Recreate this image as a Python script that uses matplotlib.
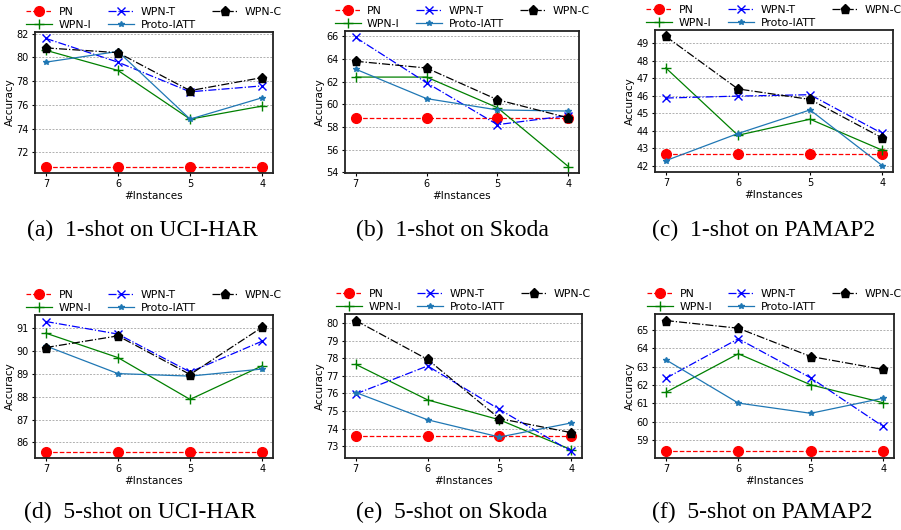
import matplotlib
matplotlib.use("Agg")
import matplotlib.pyplot as plt
from matplotlib.ticker import MultipleLocator

W, H = 901, 530

instances = [7, 6, 5, 4]
series_names = ["PN", "WPN-I", "WPN-T", "Proto-IATT", "WPN-C"]

# (a) 1-shot on UCI-HAR
a_pn = [70.8, 70.8, 70.8, 70.8]
a_wpn_i = [80.6, 78.9, 74.8, 75.9]
a_wpn_t = [81.6, 79.6, 77.1, 77.6]
a_proto = [79.6, 80.5, 74.8, 76.6]
a_wpn_c = [80.8, 80.4, 77.2, 78.3]

# (b) 1-shot on Skoda
b_pn = [58.8, 58.8, 58.8, 58.8]
b_wpn_i = [62.4, 62.4, 59.7, 54.5]
b_wpn_t = [65.9, 61.9, 58.2, 59.0]
b_proto = [63.1, 60.5, 59.5, 59.4]
b_wpn_c = [63.8, 63.2, 60.4, 58.8]

# (c) 1-shot on PAMAP2
c_pn = [42.66, 42.66, 42.66, 42.66]
c_wpn_i = [47.6, 43.75, 44.67, 42.9]
c_wpn_t = [45.88, 45.99, 46.07, 43.86]
c_proto = [42.3, 43.85, 45.2, 42.02]
c_wpn_c = [49.4, 46.4, 45.8, 43.6]

# (d) 5-shot on UCI-HAR
d_pn = [85.6, 85.6, 85.6, 85.6]
d_wpn_i = [90.78, 89.71, 87.88, 89.35]
d_wpn_t = [91.29, 90.74, 89.08, 90.43]
d_proto = [90.22, 89.01, 88.9, 89.21]
d_wpn_c = [90.15, 90.66, 88.97, 91.04]

# (e) 5-shot on Skoda
e_pn = [73.6, 73.6, 73.6, 73.6]
e_wpn_i = [77.65, 75.63, 74.5, 72.8]
e_wpn_t = [75.97, 77.56, 75.09, 72.7]
e_proto = [76.05, 74.5, 73.52, 74.32]
e_wpn_c = [80.14, 77.93, 74.57, 73.77]

# (f) 5-shot on PAMAP2
f_pn = [58.36, 58.36, 58.36, 58.36]
f_wpn_i = [61.6, 63.71, 62.01, 61.03]
f_wpn_t = [62.37, 64.53, 62.39, 59.73]
f_proto = [63.38, 61.01, 60.45, 61.28]
f_wpn_c = [65.53, 65.11, 63.56, 62.85]

ytick_steps = [2, 2, 1, 1, 1, 1]

panels = [
    ("(a)  1-shot on UCI-HAR", [a_pn, a_wpn_i, a_wpn_t, a_proto, a_wpn_c]),
    ("(b)  1-shot on Skoda", [b_pn, b_wpn_i, b_wpn_t, b_proto, b_wpn_c]),
    ("(c)  1-shot on PAMAP2", [c_pn, c_wpn_i, c_wpn_t, c_proto, c_wpn_c]),
    ("(d)  5-shot on UCI-HAR", [d_pn, d_wpn_i, d_wpn_t, d_proto, d_wpn_c]),
    ("(e)  5-shot on Skoda", [e_pn, e_wpn_i, e_wpn_t, e_proto, e_wpn_c]),
    ("(f)  5-shot on PAMAP2", [f_pn, f_wpn_i, f_wpn_t, f_proto, f_wpn_c]),
]

styles = [
    dict(color="red", linestyle="--", marker="o", markersize=7, linewidth=0.9),
    dict(color="green", linestyle="-", marker="+", markersize=6.5, linewidth=0.9),
    dict(color="blue", linestyle="-.", marker="x", markersize=6, linewidth=0.9),
    dict(color="#1f77b4", linestyle="-", marker="*", markersize=4, linewidth=0.9),
    dict(color="black", linestyle="-.", marker="p", markersize=6.5, linewidth=0.9),
]

# pixel boxes: left, right, top, bottom
boxes = [
    (35, 273, 32, 173), (345, 579, 31, 173), (655, 893, 30, 172),
    (35, 273, 315, 458), (345, 582, 314, 458), (655, 894, 314, 458),
]
captions_xy = [(142, 230), (452, 230), (764, 230), (140, 512), (452, 512), (762, 512)]

fig = plt.figure(figsize=(W / 100, H / 100), dpi=100)

for (cap, data), (l, r, t, b), (cx, cy), step in zip(panels, boxes, captions_xy, ytick_steps):
    ax = fig.add_axes([l / W, 1 - b / H, (r - l) / W, (b - t) / H])
    for name, vals, st in zip(series_names, data, styles):
        ax.plot(instances, vals, label=name, **st)
    ax.invert_xaxis()
    ax.set_xticks(instances)
    ax.yaxis.set_major_locator(MultipleLocator(step))
    ax.yaxis.grid(True, linestyle=(0, (2, 1.5)), color="#b0b0b0", linewidth=0.7)
    ax.set_axisbelow(True)
    ax.tick_params(labelsize=7, length=2.5, width=0.8, pad=2)
    for sp in ax.spines.values():
        sp.set_linewidth(1.3)
        sp.set_color("#222222")
    ax.set_xlabel("#Instances", fontsize=7.5, labelpad=1)
    ax.set_ylabel("Accuracy", fontsize=7.5, labelpad=1)
    ax.legend(loc="lower center", bbox_to_anchor=(0.5, 1.0), ncol=3, frameon=False,
              fontsize=7.8, borderaxespad=0.0, borderpad=0.2, handlelength=2.4,
              columnspacing=1.5, labelspacing=0.3, handletextpad=0.6)
    fig.text(cx / W, 1 - cy / H, cap, ha="center", va="center",
             family="Liberation Serif", fontsize=17)

fig.savefig("out.png", dpi=100)
